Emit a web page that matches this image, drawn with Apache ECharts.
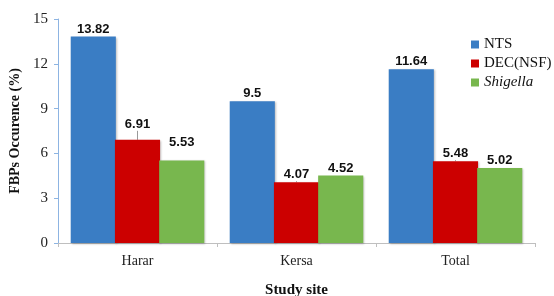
<!DOCTYPE html>
<html>
<head>
<meta charset="utf-8">
<script src="https://cdn.jsdelivr.net/npm/echarts@6/dist/echarts.min.js"></script>
<style>
  html, body { margin: 0; padding: 0; background: #fff; }
  #main { width: 554px; height: 296px; }
</style>
</head>
<body>
<div id="main"></div>
<script>
const sites = ['Harar', 'Kersa', 'Total'];
const nts = [13.82, 9.5, 11.64];
const dec = [6.91, 4.07, 5.48];
const shigella = [5.53, 4.52, 5.02];
const yTicks = { min: 0, max: 15, interval: 3 };

const chartDom = document.getElementById('main');
const myChart = echarts.init(chartDom);

const labelStyle = {
    show: true,
    position: 'top',
    distance: 1,
    fontFamily: 'Liberation Sans, Arial, sans-serif',
    fontWeight: 'bold',
    fontSize: 13,
    color: '#111'
};

const makeSeries = (name, data, color) => ({
    name: name,
    type: 'bar',
    data: data,
    barGap: '-2%',
    barCategoryGap: '16%',
    itemStyle: {
        color: color,
        shadowColor: 'rgba(0,0,0,0.25)',
        shadowBlur: 2,
        shadowOffsetX: 1,
        shadowOffsetY: 1
    },
    label: labelStyle
});

const option = {
    animation: false,
    grid: { left: 58, right: 19, top: 19, bottom: 53, outerBoundsMode: 'none', containLabel: false },
    legend: {
        orient: 'vertical',
        left: 466,
        top: 32,
        itemWidth: 8,
        itemHeight: 8,
        itemGap: 4,
        icon: 'rect',
        textStyle: {
            fontFamily: 'Liberation Serif, Times New Roman, serif',
            fontSize: 15,
            color: '#111',
            rich: { it: { fontStyle: 'italic', fontFamily: 'Liberation Serif, serif', fontSize: 15, color: '#111' } }
        },
        formatter: (n) => n === 'Shigella' ? '{it|Shigella}' : n,
        data: ['NTS', 'DEC(NSF)', 'Shigella']
    },
    xAxis: {
        type: 'category',
        data: sites,
        name: 'Study site',
        nameLocation: 'middle',
        nameGap: 40,
        nameTextStyle: {
            fontFamily: 'Liberation Serif, Times New Roman, serif',
            fontWeight: 'bold',
            fontSize: 15,
            color: '#111'
        },
        axisLine: { lineStyle: { color: '#bfbfbf', width: 1 } },
        axisTick: { show: true, length: 4, lineStyle: { color: '#bfbfbf' } },
        axisLabel: {
            margin: 11,
            fontFamily: 'Liberation Serif, Times New Roman, serif',
            fontSize: 14,
            color: '#222'
        }
    },
    yAxis: {
        type: 'value',
        min: yTicks.min,
        max: yTicks.max,
        interval: yTicks.interval,
        name: 'FBPs Occurence (%)',
        nameLocation: 'middle',
        nameGap: 36,
        nameTextStyle: {
            fontFamily: 'Liberation Serif, Times New Roman, serif',
            fontWeight: 'bold',
            fontSize: 14,
            color: '#111'
        },
        axisLine: { show: true, lineStyle: { color: '#8db4e2', width: 1 } },
        axisTick: { show: true, length: 4, lineStyle: { color: '#8db4e2' } },
        splitLine: { show: false },
        axisLabel: {
            margin: 10,
            fontFamily: 'Liberation Serif, Times New Roman, serif',
            fontSize: 15,
            color: '#222'
        }
    },
    series: [
        makeSeries('NTS', nts, '#3a7dc4'),
        Object.assign(makeSeries('DEC(NSF)', dec, '#cc0000'), {
            labelLayout: (p) => p.dataIndex === 0 ? { dy: -8 } : {},
            labelLine: { show: true, length2: 0, lineStyle: { color: '#999', width: 1 } }
        }),
        Object.assign(makeSeries('Shigella', shigella, '#78b74e'), {
            labelLayout: (p) => p.dataIndex === 0 ? { dy: -10 } : {}
        })
    ]
};

myChart.setOption(option);
</script>
</body>
</html>
